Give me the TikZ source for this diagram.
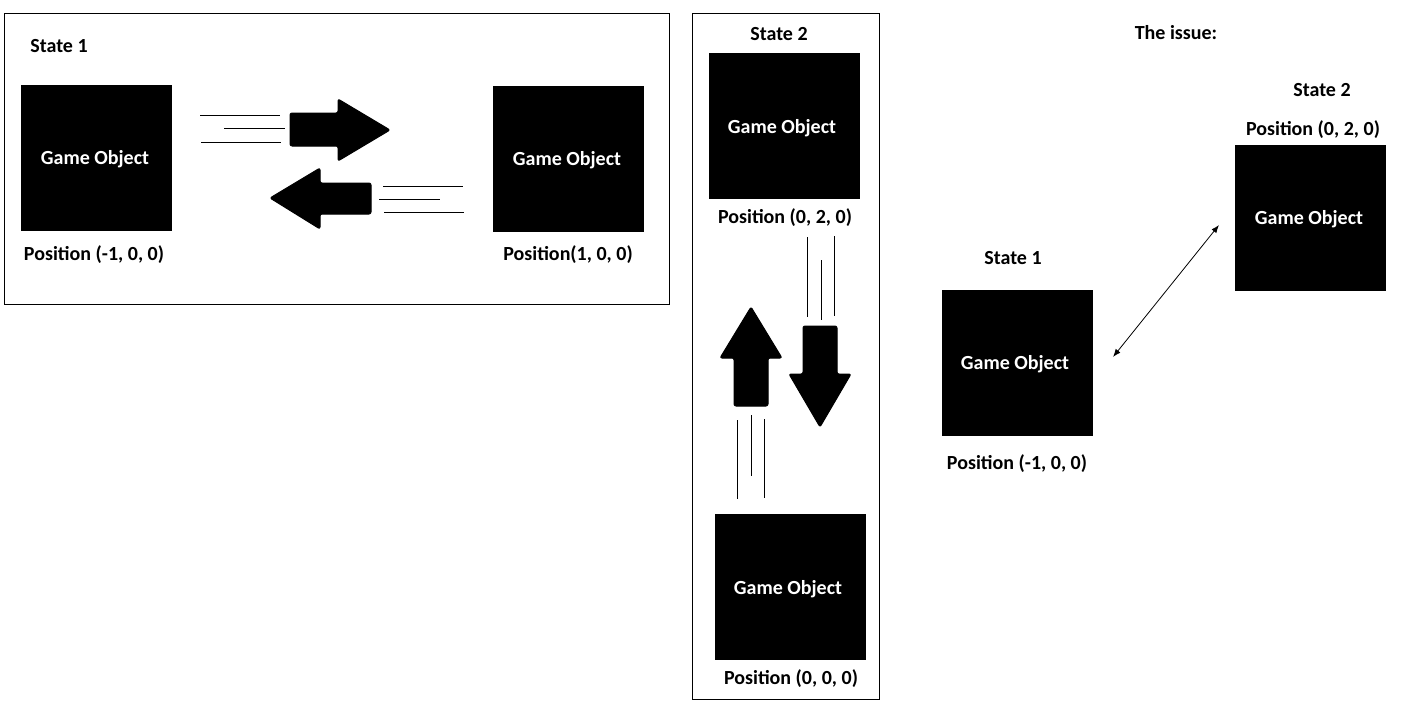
\documentclass[tikz,border=0pt]{standalone}
\usepackage{fontspec}
\setmainfont{Carlito}
\usetikzlibrary{arrows.meta}
\begin{document}
\begin{tikzpicture}[x=1pt,y=-1pt,
  lbl/.style={font=\fontsize{20}{23}\selectfont\bfseries, inner sep=0pt, yshift=-1.5pt},
  gobj/.style={fill=black, draw=none, minimum width=151pt, minimum height=146pt, inner sep=0pt, anchor=north west},
  frame/.style={draw=black, line width=1pt},
  fat/.style={fill=black, draw=black, line width=1pt, rounded corners=2pt, line join=round},
  speed/.style={draw=black, line width=1pt}]
\useasboundingbox (0,0) rectangle (1401,709);
\fill[white] (0,0) rectangle (1401,709);

% ---------- Left panel ----------
\draw[frame] (4.5,13.5) rectangle (669.5,304.5);
\node[lbl] (s1a) at (59,45) {State 1};
\node[gobj] (goA) at (21,85) {};
\node[lbl, text=white] (goAt) at (95,158) {Game Object};
\node[lbl] (posA) at (94,253) {Position (-1, 0, 0)};
\node[gobj] (goB) at (493,86) {};
\node[lbl, text=white] (goBt) at (567,159) {Game Object};
\node[lbl] (posB) at (568,253) {Position(1, 0, 0)};

% right fat arrow
\path[fat] (290,113) -- (338,113) -- (338,99) -- (390,130) -- (338,161) -- (338,146) -- (290,146) -- cycle;
\draw[speed] (200,115) -- (280,115);
\draw[speed] (224,128) -- (285,128);
\draw[speed] (201,142) -- (281,142);
% left fat arrow
\path[fat] (371,183) -- (320,183) -- (320,168) -- (270,198) -- (320,229) -- (320,214) -- (371,214) -- cycle;
\draw[speed] (383,186) -- (463,186);
\draw[speed] (379,199) -- (440,199);
\draw[speed] (384,212) -- (464,212);

% ---------- Middle panel ----------
\draw[frame] (692.5,13.5) rectangle (879.5,699.5);
\node[lbl] (s2m) at (779,33) {State 2};
\node[gobj] (goC) at (709,53) {};
\node[lbl, text=white] (goCt) at (782,127) {Game Object};
\node[lbl] (posC) at (785,216) {Position (0, 2, 0)};
\node[gobj] (goD) at (715,514) {};
\node[lbl, text=white] (goDt) at (788,588) {Game Object};
\node[lbl] (posD) at (791,677) {Position (0, 0, 0)};

% up fat arrow
\path[fat] (734,406) -- (734,358) -- (720,358) -- (751,307) -- (782,358) -- (768,358) -- (768,406) -- cycle;
\draw[speed] (737,420) -- (737,499);
\draw[speed] (751,415) -- (751,476);
\draw[speed] (764,419) -- (764,498);
% down fat arrow
\path[fat] (803,326) -- (837,326) -- (837,374) -- (851,374) -- (820,427) -- (789,374) -- (803,374) -- cycle;
\draw[speed] (807,237) -- (807,317);
\draw[speed] (821,260) -- (821,320);
\draw[speed] (834,236) -- (834,316);

% ---------- Right part ----------
\node[lbl] (issue) at (1176,31) {The issue:};
\node[lbl] (s2r) at (1322,89) {State 2};
\node[lbl] (posE) at (1313,128) {Position (0, 2, 0)};
\node[gobj] (goE) at (1235,145) {};
\node[lbl, text=white] (goEt) at (1309,218) {Game Object};
\node[lbl] (s1r) at (1013,257) {State 1};
\node[gobj] (goF) at (942,290) {};
\node[lbl, text=white] (goFt) at (1015,363) {Game Object};
\node[lbl] (posF) at (1017,462) {Position (-1, 0, 0)};

\coordinate (dA) at (1113,357);
\coordinate (dB) at (1219,225);
\draw[line width=0.8pt, {Latex[length=8pt,width=6pt]}-{Latex[length=8pt,width=6pt]}] (dA) -- (dB);
\end{tikzpicture}
\end{document}
